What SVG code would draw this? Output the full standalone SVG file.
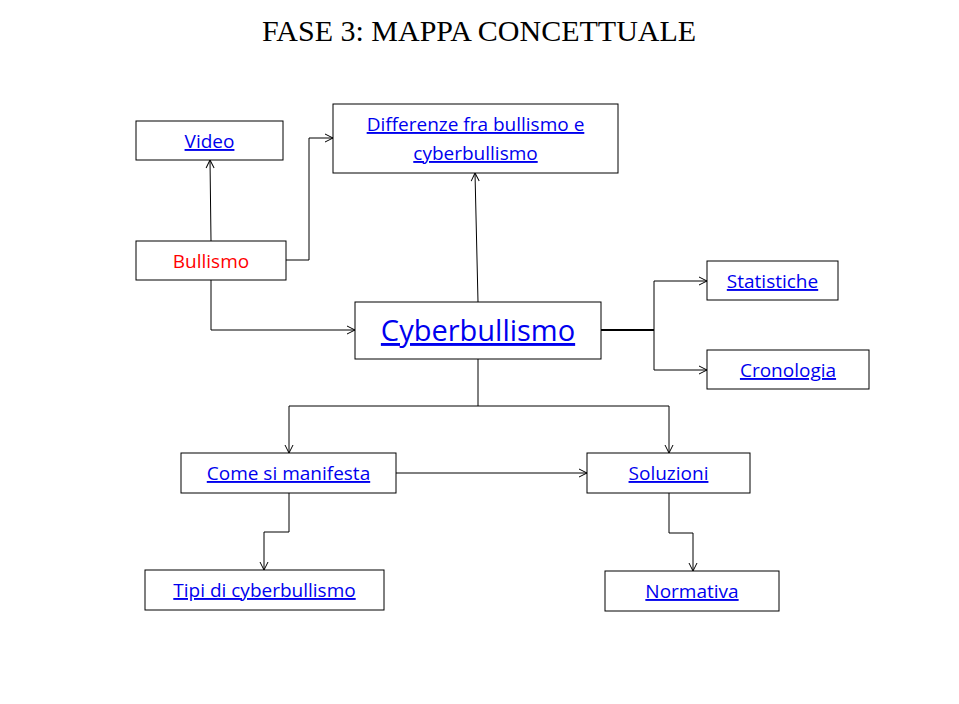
<svg xmlns="http://www.w3.org/2000/svg" width="959" height="704" viewBox="0 0 959 704">
<defs>
<marker id="a" markerWidth="10" markerHeight="10" refX="9" refY="5" orient="auto" markerUnits="userSpaceOnUse"><path d="M1,1 L9,5 L1,9" fill="none" stroke="#000" stroke-width="1"/></marker>
</defs>
<style>
.b{fill:#fff;stroke:#000;stroke-width:1}
.t{font-family:"Open Sans","Liberation Sans",sans-serif;font-size:19px;text-anchor:middle;fill:#0000EE;text-decoration:underline}
.c{fill:none;stroke:#000;stroke-width:1}
.c2{fill:none;stroke:#000;stroke-width:1;marker-end:url(#a)}
</style>
<rect width="959" height="704" fill="#fff"/>
<text x="479" y="41" font-family="Liberation Serif,serif" font-size="30" text-anchor="middle">FASE 3: MAPPA CONCETTUALE</text>
<g id="connectors">
<path class="c2" d="M211,241 L210,160"/>
<path class="c2" d="M286,260 L309,260 L309,138 L333,138"/>
<path class="c2" d="M211,280 L211,330 L355,330"/>
<path class="c2" d="M478,302 L475,173"/>
<path d="M601,330 L654,330" stroke="#000" stroke-width="2"/>
<path class="c2" d="M654,330 L654,281 L707,281"/>
<path class="c2" d="M654,330 L654,370 L707,370"/>
<path class="c" d="M478,359 L478,406"/>
<path class="c2" d="M478,406 L289,406 L289,453"/>
<path class="c2" d="M478,406 L669,406 L669,453"/>
<path class="c2" d="M396,473 L587,473"/>
<path class="c2" d="M289,493 L289,532 L264,532 L264,570"/>
<path class="c2" d="M669,493 L669,533 L693,533 L693,571"/>
</g>
<g id="video"><rect class="b" x="136" y="121" width="147" height="39"/><text class="t" x="209.5" y="148">Video</text></g>
<g id="differenze"><rect class="b" x="333" y="104" width="285" height="69"/><text class="t" x="475.5" y="131">Differenze fra bullismo e</text><text class="t" x="475.5" y="160">cyberbullismo</text></g>
<g id="bullismo"><rect class="b" x="136" y="241" width="150" height="39"/><text class="t" x="211" y="268" style="fill:#FF0000;text-decoration:none">Bullismo</text></g>
<g id="cyberbullismo"><rect class="b" x="355" y="302" width="246" height="57"/><text class="t" x="478" y="341" style="font-size:29px">Cyberbullismo</text></g>
<g id="statistiche"><rect class="b" x="707" y="261" width="131" height="39"/><text class="t" x="772.5" y="288">Statistiche</text></g>
<g id="cronologia"><rect class="b" x="707" y="350" width="162" height="39"/><text class="t" x="788" y="377">Cronologia</text></g>
<g id="come"><rect class="b" x="181" y="453" width="215" height="40"/><text class="t" x="288.5" y="480">Come si manifesta</text></g>
<g id="soluzioni"><rect class="b" x="587" y="453" width="163" height="40"/><text class="t" x="668.5" y="480">Soluzioni</text></g>
<g id="tipi"><rect class="b" x="145" y="570" width="239" height="40"/><text class="t" x="264.5" y="597">Tipi di cyberbullismo</text></g>
<g id="normativa"><rect class="b" x="605" y="571" width="174" height="40"/><text class="t" x="692" y="598">Normativa</text></g>
</svg>
